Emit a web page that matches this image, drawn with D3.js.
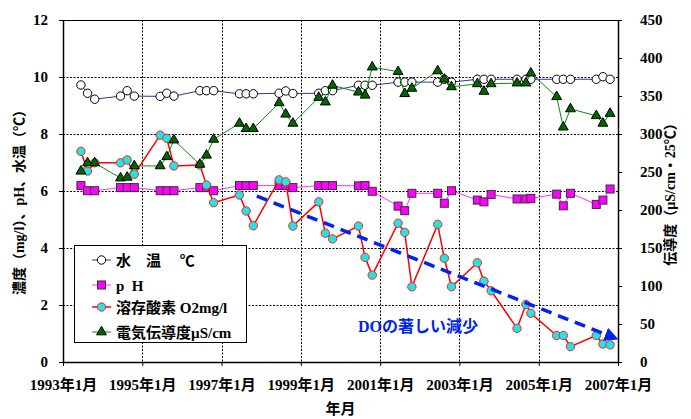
<!DOCTYPE html>
<html>
<head>
<meta charset="utf-8">
<script src="https://cdn.jsdelivr.net/npm/d3@7"></script>
<style>
  body { margin: 0; background: #fff; }
  svg text { font-family: "Liberation Serif", "Times New Roman", "Noto Sans CJK JP", serif; font-weight: bold; fill: #000; }
</style>
</head>
<body>
<div id="chart"></div>
<script>
// sampling dates (3 surveys per year)
const sampleDates = [
  "1993-06-15", "1993-08-15", "1993-10-20", "1994-06-15", "1994-08-15", "1994-10-20",
  "1995-06-15", "1995-08-15", "1995-10-20", "1996-06-15", "1996-08-15", "1996-10-20",
  "1997-06-15", "1997-08-15", "1997-10-20", "1998-06-15", "1998-08-15", "1998-10-20",
  "1999-06-15", "1999-08-15", "1999-10-20", "2000-06-15", "2000-08-15", "2000-10-20",
  "2001-06-15", "2001-08-15", "2001-10-20", "2002-06-15", "2002-08-15", "2002-10-20",
  "2003-06-15", "2003-08-15", "2003-10-20", "2004-06-15", "2004-09-05", "2004-10-20",
  "2005-06-15", "2005-08-15", "2005-10-20", "2006-06-15", "2006-08-15", "2006-10-20"
];
const waterTemp = [
  9.72, 9.43, 9.22, 9.33, 9.52, 9.33, 9.32, 9.43, 9.33, 9.52, 9.52, 9.52,
  9.41, 9.41, 9.41, 9.43, 9.51, 9.42, 9.43, 9.52, 9.52, 9.71, 9.71, 9.71,
  9.82, 9.82, 9.82, 9.82, 9.92, 9.82, 9.92, 9.92, 9.92, 9.92, 9.92, 9.92,
  9.92, 9.92, 9.92, 9.92, 10.01, 9.92
];
const phValues = [
  6.19, 6.01, 6.01, 6.12, 6.12, 6.12, 6.01, 6.01, 6.01, 6.12, 6.12, 6.01,
  6.19, 6.19, 6.19, 6.19, 6.19, 6.12, 6.19, 6.19, 6.19, 6.18, 6.19, 5.99,
  5.47, 5.31, 5.92, 5.92, 5.57, 6.01, 5.68, 5.62, 5.88, 5.72, 5.72, 5.74,
  5.89, 5.48, 5.92, 5.53, 5.68, 6.07
];
const dissolvedOxygen = [
  7.39, 6.70, 6.99, 6.99, 7.09, 6.59, 7.96, 7.85, 6.88, 6.91, 6.21, 5.59,
  5.86, 5.30, 4.78, 6.39, 6.32, 4.77, 5.62, 4.52, 4.32, 4.77, 3.67, 3.05,
  4.87, 4.55, 2.64, 4.83, 3.64, 2.64, 3.48, 2.84, 2.50, 1.18, 2.02, 1.71,
  0.93, 0.93, 0.54, 0.93, 0.63, 0.60
];
const conductivity = [
  251, 262, 262, 242, 243, 258, 258, 270, 292, 260, 272, 293,
  314, 307, 307, 341, 326, 314, 348, 342, 364, 355, 351, 388,
  382, 353, 360, 383, 372, 362, 366, 356, 366, 367, 367, 380,
  349, 309, 333, 324, 314, 327
];

const xTickDates = ["1993-01-01", "1995-01-01", "1997-01-01", "1999-01-01", "2001-01-01", "2003-01-01", "2005-01-01", "2007-01-01"];
const xTickLabels = ["1993年1月", "1995年1月", "1997年1月", "1999年1月", "2001年1月", "2003年1月", "2005年1月", "2007年1月"];
const leftTicks = [0, 2, 4, 6, 8, 10, 12];
const rightTicks = [0, 50, 100, 150, 200, 250, 300, 350, 400, 450];
const trendArrow = [["1997-11-22", 5.82], ["2006-11-07", 0.88]];

const CHART = { width: 691, height: 419, left: 63, right: 618, top: 20, bottom: 362 };
const parse = d3.timeParse("%Y-%m-%d");

const svg = d3.select("#chart").append("svg")
  .attr("width", CHART.width).attr("height", CHART.height);

const x = d3.scaleTime().domain([parse("1993-01-01"), parse("2007-01-01")]).range([CHART.left, CHART.right]);
const yL = d3.scaleLinear().domain([0, 12]).range([CHART.bottom, CHART.top]);
const yR = d3.scaleLinear().domain([0, 450]).range([CHART.bottom, CHART.top]);

// gridlines
const grid = svg.append("g").attr("stroke", "#000").attr("stroke-width", 1).attr("stroke-dasharray", "2,1.5");
grid.selectAll(".vg").data(xTickDates.slice(1, -1)).join("line")
  .attr("x1", d => Math.round(x(parse(d))) + 0.5).attr("x2", d => Math.round(x(parse(d))) + 0.5)
  .attr("y1", CHART.top).attr("y2", CHART.bottom);
grid.selectAll(".hg").data(leftTicks.slice(1, -1)).join("line")
  .attr("x1", CHART.left).attr("x2", CHART.right)
  .attr("y1", d => Math.round(yL(d)) + 0.5).attr("y2", d => Math.round(yL(d)) + 0.5);
svg.append("line").attr("x1", CHART.left).attr("x2", CHART.right)
  .attr("y1", CHART.top + 0.5).attr("y2", CHART.top + 0.5).attr("stroke", "#000");

// axes
const styleAxis = g => {
  g.select(".domain").attr("stroke", "#000").attr("stroke-width", 1.5);
  g.selectAll(".tick line").attr("stroke", "#000");
  g.selectAll("text").attr("font-size", 15).attr("fill", "#000");
};
svg.append("g").attr("transform", `translate(0,${CHART.bottom})`)
  .call(d3.axisBottom(x).tickValues(xTickDates.map(parse)).tickFormat((d, i) => xTickLabels[i]).tickSize(4).tickSizeOuter(0).tickPadding(13))
  .call(styleAxis);
svg.append("g").attr("transform", `translate(${CHART.left},0)`)
  .call(d3.axisLeft(yL).tickValues(leftTicks).tickFormat(d3.format("d")).tickSize(4).tickSizeOuter(0).tickPadding(11))
  .call(styleAxis);
svg.append("g").attr("transform", `translate(${CHART.right},0)`)
  .call(d3.axisRight(yR).tickValues(rightTicks).tickFormat(d3.format("d")).tickSize(4).tickSizeOuter(0).tickPadding(18))
  .call(styleAxis);

// axis titles
svg.append("text").attr("transform", `translate(19,${(CHART.top + CHART.bottom) / 2 + 8}) rotate(-90)`)
  .attr("text-anchor", "middle").attr("dominant-baseline", "central").attr("font-size", 14)
  .text("濃度（mg/l）、pH、水温（℃）");
svg.append("text").attr("transform", `translate(670,${(CHART.top + CHART.bottom) / 2}) rotate(-90)`)
  .attr("text-anchor", "middle").attr("dominant-baseline", "central").attr("font-size", 14)
  .text("伝導度（µS/cm・25℃）");
svg.append("text").attr("x", (CHART.left + CHART.right) / 2).attr("y", 414)
  .attr("text-anchor", "middle").attr("font-size", 15).text("年月");

// series
const series = [
  { values: waterTemp, y: yL, line: "#333399", lw: 1, shape: "circle", fill: "#fff", stroke: "#000", label: "水　温　 ℃" },
  { values: phValues, y: yL, line: "#ff33ff", lw: 1, shape: "square", fill: "#ff00ff", stroke: "#333", label: "p\u2002H" },
  { values: dissolvedOxygen, y: yL, line: "#ff0000", lw: 1.5, shape: "circle", fill: "#1ee6e6", stroke: "#ff2020", label: "溶存酸素 O2mg/l" },
  { values: conductivity, y: yR, line: "#118811", lw: 1, shape: "triangle", fill: "#006600", stroke: "#000", label: "電気伝導度µS/cm" }
];

function drawMarker(sel, s) {
  if (s.shape === "circle") {
    sel.append("circle").attr("r", 4.2);
  } else if (s.shape === "square") {
    sel.append("rect").attr("x", -4).attr("y", -4).attr("width", 8).attr("height", 8);
  } else {
    sel.append("path").attr("d", d3.symbol(d3.symbolTriangle, 42)());
  }
  sel.selectAll("*").attr("fill", s.fill).attr("stroke", s.stroke).attr("stroke-width", 1);
}

series.forEach(s => {
  const pts = sampleDates.map((d, i) => [x(parse(d)), s.y(s.values[i])]);
  svg.append("path").datum(pts)
    .attr("fill", "none").attr("stroke", s.line).attr("stroke-width", s.lw)
    .attr("d", d3.line());
  svg.append("g").selectAll("g").data(pts).join("g")
    .attr("transform", d => `translate(${d[0]},${d[1]})`)
    .each(function() { drawMarker(d3.select(this), s); });
});

// trend annotation
svg.append("defs").append("marker")
  .attr("id", "arrow").attr("viewBox", "0 0 10 10").attr("refX", 5).attr("refY", 5)
  .attr("markerWidth", 4).attr("markerHeight", 4).attr("orient", "auto")
  .append("path").attr("d", "M0,0L10,5L0,10Z").attr("fill", "#0022ee");
svg.append("line")
  .attr("x1", x(parse(trendArrow[0][0]))).attr("y1", yL(trendArrow[0][1]))
  .attr("x2", x(parse(trendArrow[1][0]))).attr("y2", yL(trendArrow[1][1]))
  .attr("stroke", "#0022ee").attr("stroke-width", 3.5).attr("stroke-dasharray", "11,7")
  .attr("marker-end", "url(#arrow)");
svg.append("text").attr("x", 418).attr("y", 332).attr("text-anchor", "middle")
  .attr("font-size", 16).style("fill", "#0022ee").text("DOの著しい減少");

// legend
const legend = svg.append("g").attr("transform", "translate(74,245)");
legend.append("rect").attr("x", 0.5).attr("y", 0.5).attr("width", 172).attr("height", 97)
  .attr("fill", "#fff").attr("stroke", "#000");
const legendRows = [15, 40, 62, 87];
series.forEach((s, i) => {
  const row = legend.append("g").attr("transform", `translate(0,${legendRows[i]})`);
  row.append("line").attr("x1", 18).attr("x2", 37).attr("stroke", s.line).attr("stroke-width", s.lw);
  drawMarker(row.append("g").attr("transform", "translate(27.5,0)"), s);
  row.append("text").attr("x", 42).attr("y", 5.5).attr("font-size", 15).text(s.label);
});
</script>
</body>
</html>
